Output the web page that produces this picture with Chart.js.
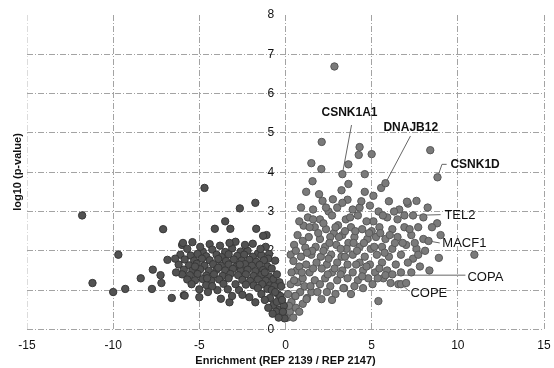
<!DOCTYPE html>
<html>
<head>
<meta charset="utf-8">
<script src="https://cdn.jsdelivr.net/npm/chart.js@4.4.1/dist/chart.umd.min.js"></script>
<style>
  html, body { margin: 0; padding: 0; background: #fff; overflow: hidden; }
  #wrap { width: 554px; height: 368px; position: relative; }
</style>
</head>
<body>
<div id="wrap"><canvas id="volcano"></canvas></div>
<script>
// enrichment (log2 ratio) vs -log10 p-value, one [x, y] pair per protein

// depleted side: scattered outliers
const negOutliers = [
  [-11.8, 2.9], [-7.1, 2.55], [-9.7, 1.9], [-11.2, 1.18], [-10.0, 0.95], [-9.3, 1.03],
  [-8.4, 1.3], [-7.7, 1.52], [-7.25, 1.38], [-7.2, 1.18], [-7.75, 1.03], [-6.6, 0.8],
  [-6.85, 1.77], [-6.0, 2.15], [-5.4, 2.22], [-5.9, 0.87], [-5.0, 0.82], [-4.7, 3.6],
  [-2.65, 3.08], [-1.75, 3.22], [-1.7, 2.56], [-4.1, 2.56], [-3.5, 2.75], [-3.2, 2.56],
  [-1.1, 2.4], [-1.3, 2.38]
];

// depleted side: main cloud
const negCluster = [
  [-5.95, 2.2], [-4.4, 2.17], [-3.8, 2.13], [-2.9, 2.23], [-1.9, 2.18], [-1.15, 2.1],
  [-5.7, 2.05], [-4.8, 1.98], [-4.25, 2.03], [-3.5, 1.97], [-3.1, 2.06], [-2.6, 1.98], [-2.2, 2.0], [-1.6, 1.93], [-0.95, 1.92],
  [-6.1, 1.9], [-5.5, 1.88], [-5.1, 1.92], [-4.6, 1.86], [-4.0, 1.9], [-3.7, 1.84], [-3.3, 1.91], [-2.8, 1.87], [-2.4, 1.9], [-1.9, 1.85], [-1.4, 1.89], [-1.0, 1.8],
  [-5.85, 1.78], [-5.3, 1.75], [-4.85, 1.8], [-4.4, 1.76], [-3.9, 1.79], [-3.45, 1.74], [-3.0, 1.78], [-2.55, 1.75], [-2.1, 1.77], [-1.7, 1.72], [-1.25, 1.76],
  [-6.2, 1.65], [-5.6, 1.63], [-5.15, 1.67], [-4.7, 1.62], [-4.2, 1.66], [-3.75, 1.62], [-3.3, 1.65], [-2.85, 1.6], [-2.35, 1.66], [-1.95, 1.62], [-1.5, 1.64], [-1.05, 1.6],
  [-5.9, 1.52], [-5.4, 1.5], [-4.95, 1.53], [-4.45, 1.49], [-4.0, 1.52], [-3.5, 1.5], [-3.05, 1.54], [-2.6, 1.49], [-2.2, 1.52], [-1.75, 1.48], [-1.3, 1.51],
  [-6.0, 1.4], [-5.55, 1.38], [-5.1, 1.41], [-4.6, 1.37], [-4.15, 1.4], [-3.65, 1.36], [-3.2, 1.41], [-2.75, 1.38], [-2.3, 1.4], [-1.85, 1.36], [-1.4, 1.39], [-0.95, 1.35],
  [-5.7, 1.27], [-5.25, 1.25], [-4.8, 1.28], [-4.3, 1.24], [-3.85, 1.27], [-2.5, 1.26], [-2.05, 1.23], [-1.6, 1.27], [-1.15, 1.24], [-0.7, 1.28],
  [-5.45, 1.15], [-4.6, 1.13], [-3.6, 1.16], [-2.3, 1.14], [-1.85, 1.12], [-1.35, 1.15], [-0.9, 1.12],
  [-5.0, 1.02], [-3.95, 1.0], [-3.35, 1.02], [-2.7, 1.0], [-1.05, 1.03],
  [-5.85, 0.86], [-3.75, 0.78], [-2.1, 0.82], [-0.45, 0.9], [-3.25, 0.69], [-1.75, 0.69],
  [-4.95, 2.1], [-3.25, 2.2], [-2.35, 2.15], [-1.45, 2.05], [-0.6, 1.75], [-0.8, 1.55],
  [-0.5, 1.4], [-0.35, 1.2], [-5.25, 1.6], [-3.9, 1.57], [-2.65, 1.65], [-1.2, 1.45],
  [-4.55, 1.3], [-3.3, 1.3], [-2.9, 1.15], [-4.25, 1.1], [-1.6, 1.05], [-0.65, 1.1],
  [-2.5, 0.88], [-1.4, 0.9], [-4.5, 0.95], [-6.35, 1.45], [-6.4, 1.8], [-3.1, 0.85]
];

// near-zero enrichment, depleted half of the V
const negBase = [
  [-0.9, 0.8], [-0.7, 0.62], [-0.5, 0.7], [-0.35, 0.5], [-0.2, 0.35], [-0.55, 0.45],
  [-0.8, 1.0], [-0.3, 0.85], [-0.1, 0.6], [-0.6, 0.95], [-0.25, 1.1], [-0.05, 0.28],
  [-0.4, 0.3], [-1.2, 0.75], [-0.15, 0.45], [-0.2, 0.75], [-0.75, 0.4], [-1.0, 0.55]
];

// enriched side: V bottom
const posBase = [
  [0.1, 0.3], [0.25, 0.45], [0.45, 0.3], [0.6, 0.55], [0.35, 0.7], [0.8, 0.45],
  [0.15, 0.9], [0.55, 0.85], [1.0, 0.65], [0.85, 0.95], [1.25, 0.8], [0.3, 1.15],
  [0.7, 1.2], [1.1, 1.1], [0.2, 0.6]
];

// enriched side: main cloud
const posCluster = [
  [0.9, 3.1], [1.6, 3.05], [2.5, 3.0], [3.0, 3.1], [3.9, 3.05], [4.9, 3.15], [5.4, 3.0], [6.6, 3.05], [8.25, 3.1], [7.1, 3.2],
  [1.3, 2.85], [2.0, 2.8], [2.7, 2.9], [3.5, 2.8], [4.2, 2.9], [5.1, 2.75], [5.9, 2.85], [6.5, 2.8], [7.4, 2.9], [8.0, 2.85], [8.8, 2.7], [4.7, 2.75],
  [1.05, 2.64], [1.7, 2.6], [2.35, 2.55], [3.05, 2.65], [3.8, 2.6], [4.45, 2.55], [5.45, 2.6], [6.2, 2.55], [6.9, 2.6], [7.7, 2.6], [9.0, 2.4], [2.8, 2.45], [5.0, 2.5],
  [0.7, 2.4], [1.35, 2.35], [2.0, 2.3], [2.6, 2.35], [3.3, 2.4], [4.0, 2.35], [4.75, 2.3], [5.25, 2.35], [5.8, 2.3], [6.5, 2.35], [7.3, 2.4], [8.0, 2.3], [3.65, 2.2],
  [0.5, 2.15], [1.15, 2.08], [1.75, 2.1], [2.3, 2.1], [2.95, 2.15], [3.55, 2.05], [4.3, 2.1], [4.95, 2.05], [5.6, 2.1], [6.2, 2.05], [7.0, 2.15], [7.6, 2.05], [8.3, 2.25],
  [0.3, 1.9], [0.9, 1.85], [1.5, 1.9], [2.05, 1.85], [2.65, 1.9], [3.25, 1.85], [3.9, 1.9], [4.6, 1.85], [5.3, 1.9], [6.0, 1.85], [6.7, 1.9], [7.4, 1.8], [8.9, 1.82],
  [0.46, 1.74], [1.2, 1.65], [1.8, 1.7], [2.4, 1.65], [3.0, 1.7], [3.6, 1.65], [4.3, 1.7], [4.9, 1.65], [5.6, 1.7], [6.4, 1.65], [7.1, 1.7], [7.8, 1.6], [2.1, 1.55], [3.3, 1.5],
  [0.65, 1.5], [1.4, 1.45], [2.7, 1.45], [3.9, 1.45], [4.5, 1.5], [5.2, 1.45], [5.9, 1.5], [6.7, 1.45], [8.35, 1.5], [1.0, 1.3], [2.3, 1.3],
  [1.7, 1.25], [2.0, 1.15], [3.0, 1.25], [3.6, 1.3], [4.2, 1.25], [4.8, 1.3], [5.68, 1.3], [5.8, 1.38], [6.1, 1.18], [6.55, 1.15], [6.7, 1.15], [7.0, 1.18], [2.6, 1.1], [3.4, 1.05], [4.0, 1.1],
  [2.9, 0.9], [2.09, 0.77], [3.36, 1.05], [5.39, 0.72], [1.22, 0.77], [0.58, 0.85], [1.5, 0.95], [2.4, 0.95], [3.8, 0.9], [4.5, 1.05],
  [0.6, 2.0], [1.0, 2.25], [1.4, 2.6], [0.8, 2.75], [1.55, 2.0], [1.9, 2.45], [2.2, 2.7], [2.55, 2.2], [2.9, 2.6], [3.2, 2.05],
  [3.45, 2.5], [3.75, 2.85], [4.05, 2.5], [4.15, 2.0], [4.55, 2.2], [4.85, 2.45], [5.15, 2.1], [5.5, 2.45], [5.75, 1.95], [6.05, 2.4],
  [6.35, 2.2], [6.8, 2.2], [7.2, 2.55], [7.5, 2.2], [8.1, 2.0], [8.5, 2.6], [0.35, 1.45], [0.8, 1.6], [1.6, 1.55], [2.5, 1.8],
  [2.85, 1.55], [3.45, 1.85], [4.1, 1.65], [4.7, 1.6], [5.45, 1.55], [6.2, 1.4], [7.3, 1.45], [7.7, 1.9], [1.25, 1.95], [2.2, 2.0],
  [3.1, 2.35], [3.95, 2.2], [0.5, 1.25], [1.45, 1.1], [2.45, 1.4], [3.2, 1.4], [4.45, 1.35], [5.05, 1.15], [5.35, 1.3], [1.85, 0.95],
  [2.7, 0.75], [0.95, 1.45], [1.6, 2.8], [2.35, 3.1], [3.6, 3.3], [4.3, 3.1], [5.1, 3.4], [6.3, 3.0], [6.9, 2.9], [5.65, 2.9]
];

// enriched side: high-significance hits
const posHigh = [
  [1.95, 3.44], [2.15, 3.27], [2.75, 3.31], [3.3, 3.22], [3.25, 3.54], [4.4, 3.26], [4.6, 3.5],
  [5.55, 3.6], [5.8, 3.72], [6.0, 3.26], [7.05, 3.25], [7.6, 3.27], [1.2, 3.5], [3.65, 3.7],
  [2.1, 4.77], [4.3, 4.64], [4.25, 4.44], [5.0, 4.46], [1.5, 4.23], [2.08, 4.08], [3.65, 4.2],
  [3.3, 3.95], [4.6, 3.95], [1.57, 3.77], [8.4, 4.56], [8.82, 3.87], [2.84, 6.69], [10.96, 1.9]
];

const xTicks = [-15, -10, -5, 0, 5, 10, 15];
const yTicks = [0, 1, 2, 3, 4, 5, 6, 7, 8];

// labelled hits: text anchor, then leader polyline ending on the point
const callouts = [
  { label: 'CSNK1A1', at: [2.09, 5.51], bold: true,  path: [[3.83, 5.2], [3.3, 3.95]] },
  { label: 'DNAJB12', at: [5.68, 5.13], bold: true,  path: [[7.25, 4.92], [5.8, 3.72]] },
  { label: 'CSNK1D',  at: [9.57, 4.2],  bold: true,  path: [[9.35, 4.2], [9.08, 4.2], [8.82, 3.87]] },
  { label: 'TEL2',    at: [9.22, 2.9],  bold: false, path: [[9.0, 2.92], [7.4, 2.9]] },
  { label: 'MACF1',   at: [9.1, 2.18],  bold: false, path: [[8.95, 2.2], [8.3, 2.25]] },
  { label: 'COPA',    at: [10.56, 1.33], bold: false, path: [[10.44, 1.38], [5.8, 1.38]] },
  { label: 'COPE',    at: [7.25, 0.92], bold: false, path: [[7.19, 0.97], [6.7, 1.15]] }
];

const toXY = arr => arr.map(([x, y]) => ({ x, y }));
const FONT = "'Liberation Sans', Arial, sans-serif";
const GRID = '#a3a3a3';

const calloutPlugin = {
  id: 'callouts',
  beforeDatasetsDraw(chart) {
    const { ctx, scales: { x, y } } = chart;
    ctx.save();
    ctx.strokeStyle = '#666';
    ctx.lineWidth = 1;
    callouts.forEach(c => {
      ctx.beginPath();
      c.path.forEach(([px, py], i) => {
        const X = x.getPixelForValue(px), Y = y.getPixelForValue(py);
        i ? ctx.lineTo(X, Y) : ctx.moveTo(X, Y);
      });
      ctx.stroke();
    });
    ctx.restore();
  },
  afterDatasetsDraw(chart) {
    const { ctx, scales: { x, y } } = chart;
    ctx.save();
    ctx.fillStyle = '#111';
    ctx.textBaseline = 'middle';
    ctx.textAlign = 'left';
    callouts.forEach(c => {
      ctx.font = (c.bold ? 'bold 12px ' : '13px ') + FONT;
      ctx.fillText(c.label, x.getPixelForValue(c.at[0]), y.getPixelForValue(c.at[1]));
    });
    // y title sits at the far left, away from the centred axis
    ctx.translate(18, 172);
    ctx.rotate(-Math.PI / 2);
    ctx.textAlign = 'center';
    ctx.font = 'bold 11px ' + FONT;
    ctx.fillText('log10 (p-value)', 0, 0);
    ctx.restore();
  }
};

new Chart(document.getElementById('volcano'), {
  type: 'scatter',
  data: {
    datasets: [
      {
        label: 'depleted',
        data: toXY([...negOutliers, ...negCluster, ...negBase]),
        backgroundColor: '#525252',
        borderColor: '#383838',
        borderWidth: 1,
        pointRadius: 3.7
      },
      {
        label: 'enriched',
        data: toXY([...posBase, ...posCluster, ...posHigh]),
        backgroundColor: '#7a7a7a',
        borderColor: '#585858',
        borderWidth: 1,
        pointRadius: 3.7
      }
    ]
  },
  options: {
    responsive: true,
    maintainAspectRatio: false,
    animation: false,
    events: [],
    layout: { padding: { left: 27, right: 10, top: 15, bottom: 0 } },
    plugins: { legend: { display: false }, tooltip: { enabled: false } },
    scales: {
      x: {
        type: 'linear',
        min: -15, max: 15,
        afterBuildTicks: axis => { axis.ticks = xTicks.map(v => ({ value: v })); },
        // small label padding keeps the last label from squeezing the plot; the
        // invisible tick marks supply the gap below the axis instead
        ticks: { color: '#111', font: { family: FONT, size: 12 }, padding: 2 },
        grid: {
          drawTicks: true,
          tickLength: 7,
          tickColor: 'rgba(0,0,0,0)',
          color: ctx => ctx.tick && ctx.tick.value === -15 ? '#dcdcdc' : GRID
        },
        border: { display: false, dash: [6, 2, 1, 2] },
        title: {
          display: true,
          text: 'Enrichment (REP 2139 / REP 2147)',
          color: '#111',
          font: { family: FONT, size: 11, weight: 'bold' },
          padding: { top: 0, bottom: 0 }
        }
      },
      y: {
        type: 'linear',
        min: 0, max: 8,
        position: { x: -0.65 },
        afterBuildTicks: axis => { axis.ticks = yTicks.map(v => ({ value: v })); },
        ticks: { color: '#111', font: { family: FONT, size: 12 } },
        grid: {
          drawTicks: false,
          color: ctx => ctx.tick && ctx.tick.value === 8 ? 'rgba(0,0,0,0)' : GRID
        },
        border: { display: false, dash: [6, 2, 1, 2] }
      }
    }
  },
  plugins: [calloutPlugin]
});
</script>
</body>
</html>
